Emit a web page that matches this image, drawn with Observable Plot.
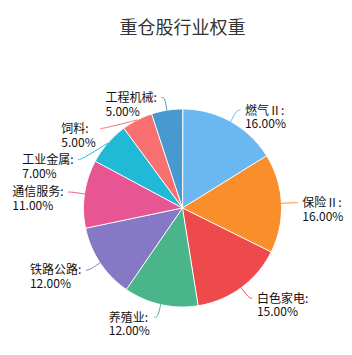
<!DOCTYPE html>
<html>
<head>
<meta charset="utf-8">
<script src="https://cdn.jsdelivr.net/npm/d3@7"></script>
<script src="https://cdn.jsdelivr.net/npm/@observablehq/plot@0.6"></script>
<style>
  html, body { margin: 0; padding: 0; background: #fff; }
</style>
</head>
<body>
<div id="chart"></div>
<script>
// ---- data ----
const title = "重仓股行业权重";
const names = ["燃气Ⅱ", "保险Ⅱ", "白色家电", "养殖业", "铁路公路", "通信服务", "工业金属", "饲料", "工程机械"];
const weights = [16, 16, 15, 12, 12, 11, 7, 5, 5];
const colors = ["#6bb8f0", "#f98e2b", "#ee4a4b", "#4ab58a", "#8579c5", "#e85593", "#20bad7", "#f87070", "#4799d0"];

// ---- layout ----
const W = 352, H = 355;
const CX = 182, CY = 207.5, R = 99;
const L1 = 13, L2 = 3, GAP = 5, MINSEP = 31;
const LH = 1.15, FS = 12;
const FONT = "'Noto Sans CJK SC', 'Noto Sans', sans-serif";

const arcs = d3.pie().sort(null).value(i => weights[i])(d3.range(names.length));

// slice polygons
const slicePts = [];
arcs.forEach(a => {
  const name = names[a.data];
  const n = Math.max(2, Math.ceil((a.endAngle - a.startAngle) / (Math.PI / 180)));
  slicePts.push({name, x: 0, y: 0});
  for (let k = 0; k <= n; k++) {
    const ang = a.startAngle + (a.endAngle - a.startAngle) * k / n;
    slicePts.push({name, x: R * Math.sin(ang), y: -R * Math.cos(ang)});
  }
});

// labels with simple overlap avoidance per side
const RL = R + L1;
const labels = arcs.map(a => {
  const mid = (a.startAngle + a.endAngle) / 2;
  const i = a.data;
  return {
    name: names[i],
    text: `${names[i]}:\n${weights[i].toFixed(2)}%`,
    side: Math.sin(mid) >= 0 ? 1 : -1,
    p1: [R * Math.sin(mid), -R * Math.cos(mid)],
    y: -RL * Math.cos(mid)
  };
});
for (const side of [1, -1]) {
  const group = labels.filter(d => d.side === side).sort((a, b) => a.y - b.y);
  for (let k = 1; k < group.length; k++) {
    if (group[k].y < group[k - 1].y + MINSEP) group[k].y = group[k - 1].y + MINSEP;
  }
}
const ctx = document.createElement("canvas").getContext("2d");
ctx.font = `${FS}px ${FONT}`;
const leaderPts = [];
labels.forEach(d => {
  const x2 = d.side * Math.sqrt(Math.max(0, RL * RL - d.y * d.y));
  const x3 = x2 + d.side * L2;
  leaderPts.push({name: d.name, x: d.p1[0], y: d.p1[1]});
  leaderPts.push({name: d.name, x: x2, y: d.y});
  leaderPts.push({name: d.name, x: x3, y: d.y});
  const w = Math.max(...d.text.split("\n").map(s => ctx.measureText(s).width));
  d.tx = d.side > 0 ? x3 + GAP : x3 - GAP - w;
  d.ty = d.y + LH * FS / 2;
});

const chart = Plot.plot({
  width: W,
  height: H,
  margin: 0,
  style: {background: "#fff", fontFamily: FONT},
  x: {domain: [-R, R], range: [CX - R, CX + R], axis: null},
  y: {domain: [-R, R], range: [CY - R, CY + R], axis: null},
  color: {domain: names, range: colors},
  marks: [
    Plot.line(slicePts, {x: "x", y: "y", z: "name", fill: "name", stroke: "#fff", strokeWidth: 1, curve: "linear-closed"}),
    Plot.line(leaderPts, {x: "x", y: "y", z: "name", stroke: "name", strokeWidth: 1, curve: "basis"}),
    Plot.text(labels, {x: "tx", y: "ty", text: "text", textAnchor: "start", lineAnchor: "middle", lineHeight: LH, fontSize: FS, fill: "#111"}),
    Plot.text([title], {frameAnchor: "top", text: d => d, dx: 6, dy: 28, lineAnchor: "middle", fontSize: 18, fill: "#333"})
  ]
});
document.getElementById("chart").appendChild(chart);
</script>
</body>
</html>
